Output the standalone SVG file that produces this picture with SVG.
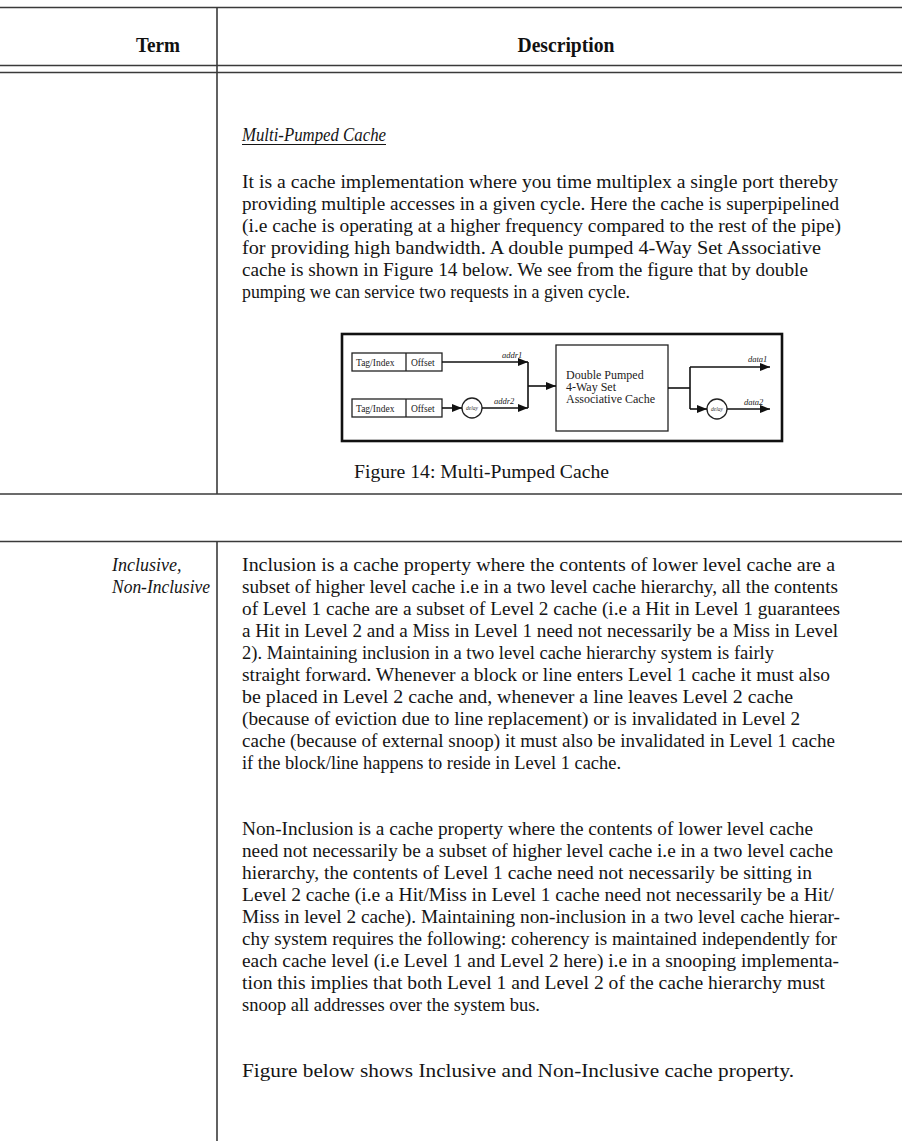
<svg xmlns="http://www.w3.org/2000/svg" width="902" height="1141" viewBox="0 0 902 1141">
  <defs>
    <marker id="arrow" viewBox="0 0 10 8" refX="10" refY="4" markerWidth="10" markerHeight="8" markerUnits="userSpaceOnUse" orient="auto">
      <path d="M0,0 L10,4 L0,8 Z" fill="#111"/>
    </marker>
    <style>
      .rule { stroke: #3a3a3a; stroke-width: 1.6; fill: none; }
      .hdr { font-family: "Liberation Serif", serif; font-size: 20px; font-weight: bold; fill: #111; text-anchor: middle; }
      .body { font-family: "Liberation Serif", serif; font-size: 19.5px; fill: #151515; }
      .ital { font-family: "Liberation Serif", serif; font-size: 18px; font-style: italic; fill: #151515; }
      .fig-frame { fill: none; stroke: #111; stroke-width: 2.6; }
      .fig-box { fill: #fff; stroke: #222; stroke-width: 1.3; }
      .wire { fill: none; stroke: #111; stroke-width: 1.6; }
      .fig-txt { font-family: "Liberation Serif", serif; font-size: 9.5px; fill: #222; }
      .fig-lbl { font-family: "Liberation Serif", serif; font-size: 8.5px; font-style: italic; fill: #222; }
      .fig-tiny { font-family: "Liberation Serif", serif; font-size: 5.5px; font-style: italic; fill: #333; text-anchor: middle; }
      .cache-txt { font-family: "Liberation Serif", serif; font-size: 12px; fill: #222; }
    </style>
  </defs>

  <rect width="902" height="1141" fill="#fff"/>

  <!-- table rules -->
  <g id="table-rules">
    <line class="rule" x1="0" y1="7.5" x2="902" y2="7.5"/>
    <line class="rule" x1="0" y1="65.5" x2="902" y2="65.5"/>
    <line class="rule" x1="0" y1="72.5" x2="902" y2="72.5"/>
    <line class="rule" x1="0" y1="494" x2="902" y2="494"/>
    <line class="rule" x1="0" y1="541.5" x2="902" y2="541.5"/>
    <line class="rule" x1="217" y1="7.5" x2="217" y2="494"/>
    <line class="rule" x1="217" y1="541.5" x2="217" y2="1141"/>
  </g>

  <!-- header row -->
  <g id="header">
    <text class="hdr" x="158" y="51.5" textLength="44" lengthAdjust="spacingAndGlyphs">Term</text>
    <text class="hdr" x="566" y="51.5" textLength="97" lengthAdjust="spacingAndGlyphs">Description</text>
  </g>

  <!-- multi-pumped cache entry -->
  <g id="multi-pumped">
    <text class="ital" x="242" y="141" textLength="144" lengthAdjust="spacingAndGlyphs">Multi-Pumped Cache</text>
    <line x1="242" y1="144.5" x2="386" y2="144.5" stroke="#151515" stroke-width="1"/>
    <text class="body" x="242" y="188" textLength="596" lengthAdjust="spacingAndGlyphs">It is a cache implementation where you time multiplex a single port thereby</text>
    <text class="body" x="242" y="210" textLength="597" lengthAdjust="spacingAndGlyphs">providing multiple accesses in a given cycle. Here the cache is superpipelined</text>
    <text class="body" x="242" y="232" textLength="599" lengthAdjust="spacingAndGlyphs">(i.e cache is operating at a higher frequency compared to the rest of the pipe)</text>
    <text class="body" x="242" y="254" textLength="579" lengthAdjust="spacingAndGlyphs">for providing high bandwidth. A double pumped 4-Way Set Associative</text>
    <text class="body" x="242" y="276" textLength="566" lengthAdjust="spacingAndGlyphs">cache is shown in Figure  14 below. We see from the figure that by double</text>
    <text class="body" x="242" y="298" textLength="388" lengthAdjust="spacingAndGlyphs">pumping we can service two requests in a given cycle.</text>
  </g>

  <!-- figure 14 -->
  <g id="figure-14">
    <rect class="fig-frame" x="342" y="334" width="440" height="107"/>

    <g id="req1">
      <rect class="fig-box" x="352" y="353" width="90" height="18"/>
      <line x1="406" y1="353" x2="406" y2="371" stroke="#222" stroke-width="1.3"/>
      <text class="fig-txt" x="356" y="365.5">Tag/Index</text>
      <text class="fig-txt" x="411" y="365.5">Offset</text>
    </g>
    <g id="req2">
      <rect class="fig-box" x="352" y="399" width="90" height="18"/>
      <line x1="406" y1="399" x2="406" y2="417" stroke="#222" stroke-width="1.3"/>
      <text class="fig-txt" x="356" y="411.5">Tag/Index</text>
      <text class="fig-txt" x="411" y="411.5">Offset</text>
    </g>
    <g id="delay-in">
      <circle class="fig-box" cx="472" cy="408" r="10"/>
      <text class="fig-tiny" x="472" y="410">delay</text>
    </g>
    <g id="cache">
      <rect class="fig-box" x="556" y="345" width="112" height="86"/>
      <text class="cache-txt" x="566" y="379">Double Pumped</text>
      <text class="cache-txt" x="566" y="391">4-Way Set</text>
      <text class="cache-txt" x="566" y="403">Associative Cache</text>
    </g>
    <g id="delay-out">
      <circle class="fig-box" cx="717" cy="409" r="10"/>
      <text class="fig-tiny" x="717" y="411">delay</text>
    </g>

    <g id="wires">
      <line class="wire" x1="442" y1="362" x2="528" y2="362" marker-end="url(#arrow)"/>
      <line class="wire" x1="442" y1="408" x2="462" y2="408" marker-end="url(#arrow)"/>
      <line class="wire" x1="482" y1="408" x2="528" y2="408" marker-end="url(#arrow)"/>
      <line class="wire" x1="528" y1="362" x2="528" y2="408"/>
      <line class="wire" x1="528" y1="386" x2="556" y2="386" marker-end="url(#arrow)"/>
      <line class="wire" x1="668" y1="388" x2="690" y2="388"/>
      <line class="wire" x1="690" y1="367" x2="690" y2="409"/>
      <line class="wire" x1="690" y1="367" x2="770" y2="367" marker-end="url(#arrow)"/>
      <line class="wire" x1="690" y1="409" x2="707" y2="409" marker-end="url(#arrow)"/>
      <line class="wire" x1="727" y1="409" x2="770" y2="409" marker-end="url(#arrow)"/>
      <text class="fig-lbl" x="502" y="358">addr1</text>
      <text class="fig-lbl" x="494" y="404">addr2</text>
      <text class="fig-lbl" x="748" y="362">data1</text>
      <text class="fig-lbl" x="744" y="405">data2</text>
    </g>

    <text class="body" x="354" y="478" textLength="255" lengthAdjust="spacingAndGlyphs">Figure  14: Multi-Pumped Cache</text>
  </g>

  <!-- inclusive / non-inclusive entry -->
  <g id="inclusive-term">
    <text class="ital" x="112" y="571">Inclusive,</text>
    <text class="ital" x="112" y="593" textLength="98" lengthAdjust="spacingAndGlyphs">Non-Inclusive</text>
  </g>

  <g id="inclusive-desc">
    <text class="body" x="242" y="571" textLength="593" lengthAdjust="spacingAndGlyphs">Inclusion is a cache property where the contents of lower level cache are a</text>
    <text class="body" x="242" y="593" textLength="596" lengthAdjust="spacingAndGlyphs">subset of higher level cache i.e in a two level cache hierarchy, all the contents</text>
    <text class="body" x="242" y="615" textLength="598" lengthAdjust="spacingAndGlyphs">of Level 1 cache are a subset of Level 2 cache (i.e a Hit in Level 1 guarantees</text>
    <text class="body" x="242" y="637" textLength="596" lengthAdjust="spacingAndGlyphs">a Hit in Level 2 and a Miss in Level  1 need not necessarily be a Miss in Level</text>
    <text class="body" x="242" y="659" textLength="532" lengthAdjust="spacingAndGlyphs">2). Maintaining inclusion in a two level cache hierarchy system is fairly</text>
    <text class="body" x="242" y="681" textLength="588" lengthAdjust="spacingAndGlyphs">straight forward. Whenever a block or line enters Level 1 cache it must also</text>
    <text class="body" x="242" y="703" textLength="551" lengthAdjust="spacingAndGlyphs">be placed in Level 2 cache and, whenever a line leaves Level 2 cache</text>
    <text class="body" x="242" y="725" textLength="558" lengthAdjust="spacingAndGlyphs">(because of eviction due to line replacement) or is invalidated in Level 2</text>
    <text class="body" x="242" y="747" textLength="593" lengthAdjust="spacingAndGlyphs">cache (because of external snoop) it must also be invalidated in Level 1 cache</text>
    <text class="body" x="242" y="769" textLength="379" lengthAdjust="spacingAndGlyphs">if the block/line happens to reside in Level  1 cache.</text>

    <text class="body" x="242" y="835" textLength="571" lengthAdjust="spacingAndGlyphs">Non-Inclusion is a cache property where the contents of lower level cache</text>
    <text class="body" x="242" y="857" textLength="591" lengthAdjust="spacingAndGlyphs">need not necessarily be a subset of higher level cache i.e in a two level cache</text>
    <text class="body" x="242" y="879" textLength="570" lengthAdjust="spacingAndGlyphs">hierarchy, the contents of Level 1 cache need not necessarily be sitting in</text>
    <text class="body" x="242" y="901" textLength="592" lengthAdjust="spacingAndGlyphs">Level 2 cache (i.e a Hit/Miss in Level  1 cache need not necessarily be a Hit/</text>
    <text class="body" x="242" y="923" textLength="598" lengthAdjust="spacingAndGlyphs">Miss in level 2 cache). Maintaining non-inclusion in a two level cache hierar-</text>
    <text class="body" x="242" y="945" textLength="595" lengthAdjust="spacingAndGlyphs">chy system requires the following: coherency is maintained independently for</text>
    <text class="body" x="242" y="967" textLength="597" lengthAdjust="spacingAndGlyphs">each cache level (i.e Level 1 and Level 2 here) i.e in a snooping implementa-</text>
    <text class="body" x="242" y="989" textLength="583" lengthAdjust="spacingAndGlyphs">tion this implies that both Level  1  and Level 2 of the cache hierarchy must</text>
    <text class="body" x="242" y="1011" textLength="298" lengthAdjust="spacingAndGlyphs">snoop all addresses over the system bus.</text>

    <text class="body" x="242" y="1077" textLength="552" lengthAdjust="spacingAndGlyphs">Figure below shows Inclusive and Non-Inclusive cache property.</text>
  </g>
</svg>
